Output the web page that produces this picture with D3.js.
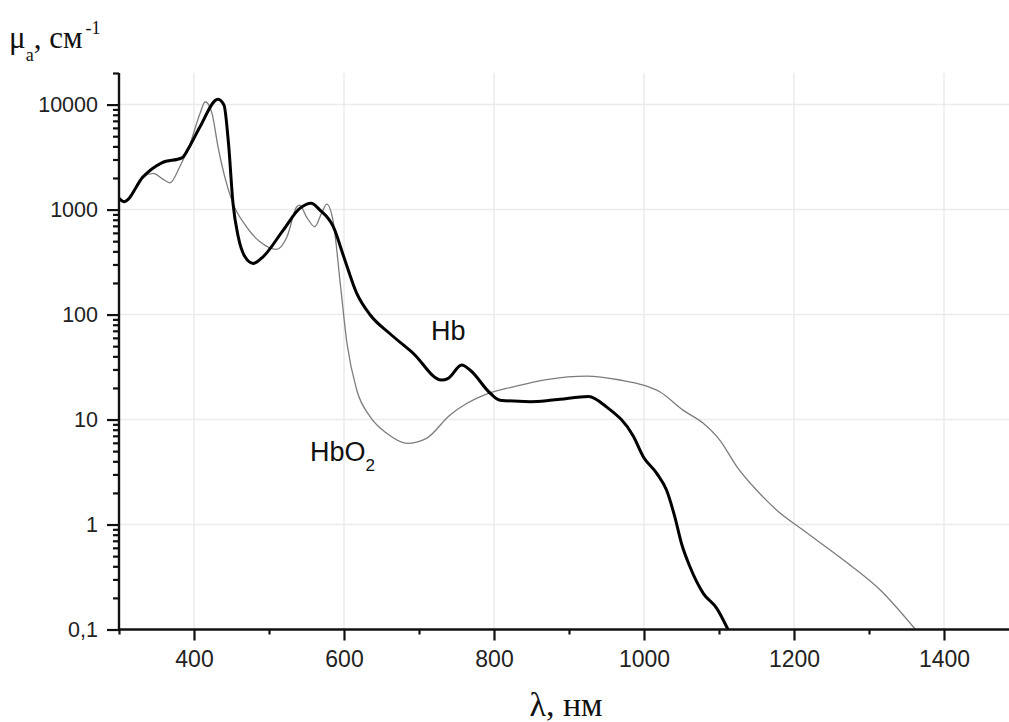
<!DOCTYPE html>
<html>
<head>
<meta charset="utf-8">
<script src="https://cdn.jsdelivr.net/npm/d3@7"></script>
<style>
  html, body { margin: 0; padding: 0; background: #fff; }
  svg { display: block; }
</style>
</head>
<body>
<svg id="chart" width="1009" height="722"></svg>
<script>
// Absorption spectra of deoxy- (Hb) and oxyhaemoglobin (HbO2), µa in cm^-1
const hbWavelength = [300, 307, 332, 357, 384, 395, 408, 432, 440, 446, 452, 459, 468, 479, 492, 519, 541, 556, 568, 586, 600, 617, 635, 661, 692, 730, 739, 757, 768, 795, 808, 848, 870, 888, 926, 950, 986, 999, 1017, 1030, 1041, 1050, 1061, 1079, 1097, 1112];
const hbValue = [1280, 1190, 2050, 2790, 3110, 4110, 6150, 11270, 9890, 4270, 1146, 551, 355, 307, 355, 638, 1025, 1150, 989, 680, 350, 159, 99, 66, 43, 23.8, 24.7, 33, 29.6, 17.8, 15.3, 14.8, 15.1, 15.6, 16.6, 13.2, 6.9, 4.43, 3.07, 2.13, 1.19, 0.66, 0.40, 0.221, 0.159, 0.1];

const hbo2Wavelength = [300, 307, 332, 346, 357, 368, 381, 395, 408, 415, 424, 432, 441, 452, 470, 488, 510, 524, 537, 541, 550, 561, 570, 577, 586, 595, 604, 617, 635, 657, 684, 710, 741, 764, 790, 826, 870, 924, 968, 999, 1021, 1052, 1079, 1101, 1124, 1150, 1177, 1212, 1266, 1315, 1362];
const hbo2Value = [1280, 1190, 2050, 2213, 1982, 1800, 2560, 4270, 8240, 10640, 8240, 3960, 2050, 1146, 686, 493, 418, 551, 1065, 1104, 853, 686, 920, 1127, 740, 198, 53, 19.1, 10.6, 7.4, 5.93, 6.62, 11.0, 14.3, 17.5, 20.5, 24.0, 25.9, 23.8, 21.3, 18.4, 12.3, 9.2, 6.38, 3.55, 2.13, 1.37, 0.887, 0.459, 0.238, 0.1];

const xMajorTicks = [400, 600, 800, 1000, 1200, 1400];
const xMinorTicks = [300, 500, 700, 900, 1100, 1300, 1500];
const yMajorTicks = [0.1, 1, 10, 100, 1000, 10000];
const yTickLabels = ["0,1", "1", "10", "100", "1000", "10000"];

const svg = d3.select("#chart");
const W = 1009, H = 722;

const x = d3.scaleLinear().domain([300, 1500]).range([119, 1019]);
const y = d3.scaleLog().domain([0.1, 20000]).range([629.5, 73]);

// minor log ticks: 2..9 of each decade, plus 20000 at the top
const yMinorTicks = [];
[0.1, 1, 10, 100, 1000].forEach(d => { for (let k = 2; k <= 9; k++) yMinorTicks.push(+(d * k).toPrecision(3)); });
yMinorTicks.push(20000);

// grid
const grid = svg.append("g").attr("stroke", "#ebebeb").attr("stroke-width", 1.5);
grid.selectAll("line.h").data(yMajorTicks.slice(1)).join("line")
  .attr("x1", x(300)).attr("x2", W)
  .attr("y1", d => y(d)).attr("y2", d => y(d));
grid.selectAll("line.v").data(xMajorTicks).join("line")
  .attr("x1", d => x(d)).attr("x2", d => x(d))
  .attr("y1", y(20000)).attr("y2", y(0.1));

// curves
const line = d3.line().x(d => x(d[0])).y(d => y(d[1])).curve(d3.curveMonotoneX);
svg.append("path")
  .datum(hbo2Wavelength.map((w, i) => [w, hbo2Value[i]]))
  .attr("fill", "none").attr("stroke", "#7c7c7c").attr("stroke-width", 1.3)
  .attr("d", line);
svg.append("path")
  .datum(hbWavelength.map((w, i) => [w, hbValue[i]]))
  .attr("fill", "none").attr("stroke", "#000").attr("stroke-width", 3)
  .attr("stroke-linejoin", "round")
  .attr("d", line);

// axes
const axisStyle = g => {
  g.selectAll(".domain").remove();
  g.selectAll(".tick line").attr("stroke", "#111").attr("stroke-width", 2.2);
  g.selectAll(".tick text").attr("fill", "#222").attr("font-family", "Liberation Sans, Arial, sans-serif");
};

svg.append("g").attr("transform", `translate(0,${y(0.1)})`)
  .call(d3.axisBottom(x).tickValues(xMinorTicks).tickSize(5).tickFormat(""))
  .call(axisStyle);
svg.append("g").attr("transform", `translate(0,${y(0.1)})`)
  .call(d3.axisBottom(x).tickValues(xMajorTicks).tickSize(11).tickPadding(10).tickFormat(d3.format("d")))
  .call(axisStyle)
  .call(g => g.selectAll(".tick text").attr("font-size", 23));

svg.append("g").attr("transform", `translate(${x(300)},0)`)
  .call(d3.axisLeft(y).tickValues(yMinorTicks).tickSize(6).tickFormat(""))
  .call(axisStyle);
svg.append("g").attr("transform", `translate(${x(300)},0)`)
  .call(d3.axisLeft(y).tickValues(yMajorTicks).tickSize(12).tickPadding(9)
    .tickFormat((d, i) => yTickLabels[i]))
  .call(axisStyle)
  .call(g => g.selectAll(".tick text").attr("font-size", 21.5));

// axis lines
svg.append("line").attr("x1", x(300)).attr("x2", W).attr("y1", y(0.1)).attr("y2", y(0.1))
  .attr("stroke", "#111").attr("stroke-width", 2.4);
svg.append("line").attr("x1", x(300)).attr("x2", x(300)).attr("y1", y(20000)).attr("y2", y(0.1))
  .attr("stroke", "#111").attr("stroke-width", 2.4);

// series labels
const lab = svg.append("g").attr("font-family", "Liberation Sans, Arial, sans-serif").attr("fill", "#111");
lab.append("text").attr("x", 431).attr("y", 340).attr("font-size", 27).text("Hb");
const t2 = lab.append("text").attr("x", 310).attr("y", 461).attr("font-size", 27);
t2.append("tspan").text("HbO");
t2.append("tspan").attr("font-size", 17).attr("dy", 10).text("2");

// axis titles
const serif = "Liberation Serif, Times New Roman, serif";
const yt = svg.append("text").attr("x", 9).attr("y", 48).attr("font-family", serif).attr("fill", "#111").attr("font-size", 31);
yt.append("tspan").text("μ");
yt.append("tspan").attr("font-size", 18).attr("dy", 13).text("a");
yt.append("tspan").attr("dy", -13).text(", см");
yt.append("tspan").attr("font-size", 18).attr("dy", -14).attr("dx", 3).text("-1");

svg.append("text").attr("x", 566).attr("y", 716).attr("text-anchor", "middle")
  .attr("font-family", serif).attr("font-size", 34).attr("fill", "#111").text("λ, нм");
</script>
</body>
</html>
